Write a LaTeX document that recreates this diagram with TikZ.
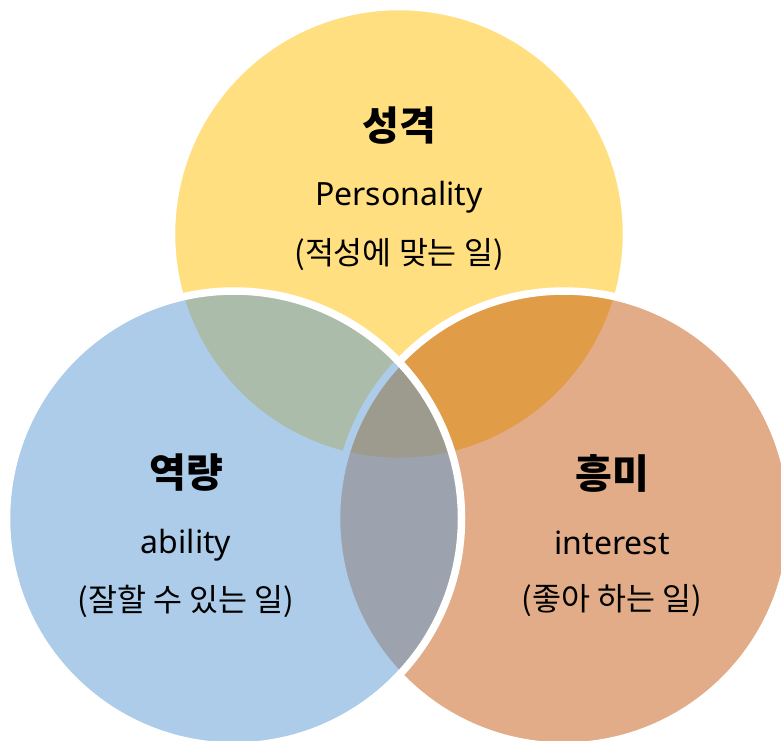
\documentclass[tikz,border=0pt]{standalone}
\usepackage{fontspec}
\setmainfont{Noto Sans}
\newfontfamily\kr{Noto Sans CJK KR}
\definecolor{cyellow}{HTML}{FFC000}
\definecolor{cblue}{HTML}{5B9BD5}
\definecolor{corange}{HTML}{C55A11}
\begin{document}
\begin{tikzpicture}[x=1pt,y=-1pt,
  venn/.style={circle, draw=white, line width=7.5pt, fill opacity=0.5, draw opacity=1, minimum size=455pt, inner sep=0pt},
  ttl/.style={font=\kr\bfseries\fontsize{40}{48}\selectfont, inner sep=0pt},
  eng/.style={font=\fontsize{32}{38}\selectfont, inner sep=0pt},
  sub/.style={font=\kr\fontsize{31.5}{38}\selectfont, inner sep=0pt}]
\clip (0,0) rectangle (781,740);
\fill[white] (0,0) rectangle (781,740);
\node[venn, fill=cyellow] (yel) at (399,234) {};
\node[venn, fill=corange] (ora) at (564,518.5) {};
\node[venn, fill=cblue] (blu) at (234,518.5) {};
% yellow texts
\node[ttl] (t1) at (399,126) {성격};
\node[eng] (e1) at (399,197) {Personality};
\node[sub] (s1) at (399,255) {(적성에 맞는 일)};
% blue texts
\node[ttl] (t2) at (186,473) {역량};
\node[eng] (e2) at (186,545) {ability};
\node[sub] (s2) at (186,601) {(잘할 수 있는 일)};
% orange texts
\node[ttl] (t3) at (612,473) {흥미};
\node[eng] (e3) at (612,543) {interest};
\node[sub] (s3) at (612,601) {(좋아 하는 일)};
\end{tikzpicture}
\end{document}
